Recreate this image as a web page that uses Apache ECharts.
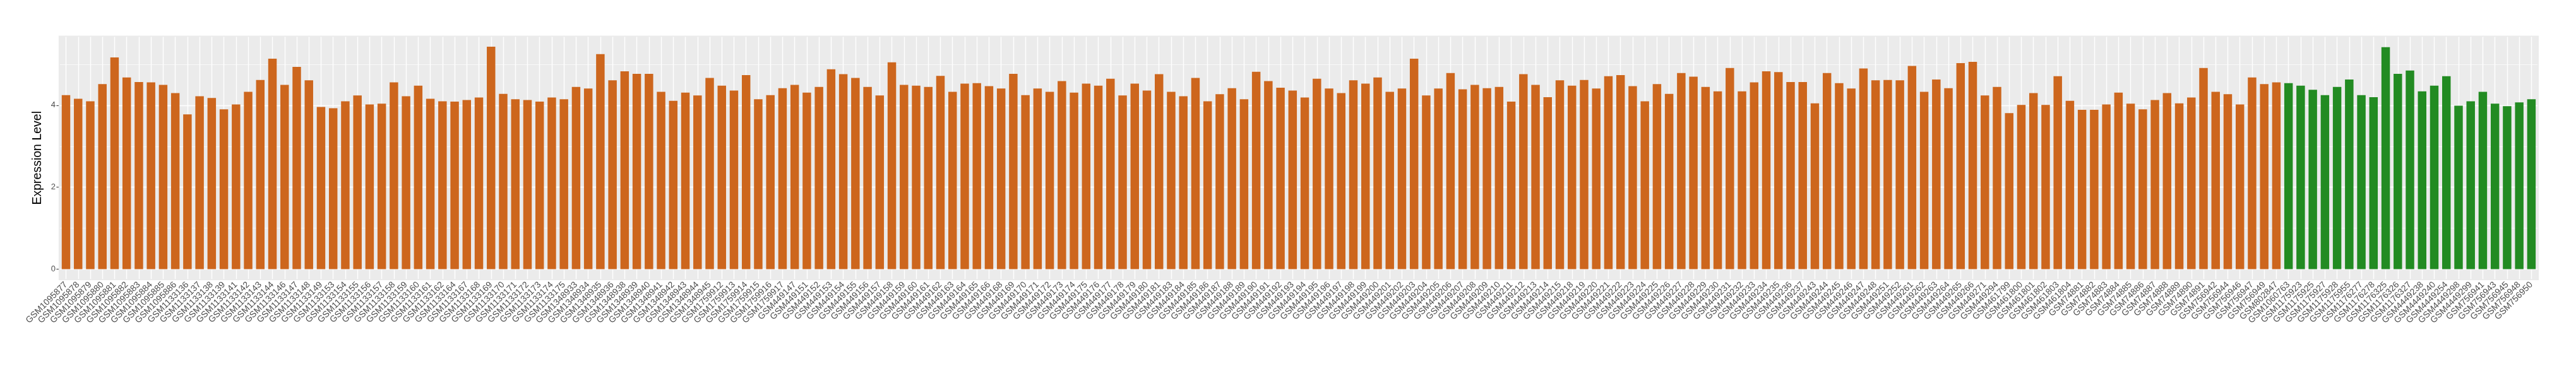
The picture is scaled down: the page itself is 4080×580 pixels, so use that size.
<!DOCTYPE html>
<html>
<head>
<meta charset="utf-8">
<title>Expression Level</title>
<script src="https://cdn.jsdelivr.net/npm/echarts@6.0.0/dist/echarts.min.js"></script>
<style>
  html, body { margin: 0; padding: 0; background: #fff; }
  #chart { width: 4080px; height: 580px; }
</style>
</head>
<body>
<div id="chart"></div>
<script>
const samples = [
  'GSM1095877', 'GSM1095878', 'GSM1095879', 'GSM1095880', 'GSM1095881', 'GSM1095882', 'GSM1095883', 'GSM1095884',
  'GSM1095885', 'GSM1095886', 'GSM1133136', 'GSM1133137', 'GSM1133138', 'GSM1133139', 'GSM1133141', 'GSM1133142',
  'GSM1133143', 'GSM1133144', 'GSM1133146', 'GSM1133147', 'GSM1133148', 'GSM1133149', 'GSM1133153', 'GSM1133154',
  'GSM1133155', 'GSM1133156', 'GSM1133157', 'GSM1133158', 'GSM1133159', 'GSM1133160', 'GSM1133161', 'GSM1133162',
  'GSM1133164', 'GSM1133167', 'GSM1133168', 'GSM1133169', 'GSM1133170', 'GSM1133171', 'GSM1133172', 'GSM1133173',
  'GSM1133174', 'GSM1133175', 'GSM1348933', 'GSM1348934', 'GSM1348935', 'GSM1348936', 'GSM1348938', 'GSM1348939',
  'GSM1348940', 'GSM1348941', 'GSM1348942', 'GSM1348943', 'GSM1348944', 'GSM1348945', 'GSM1759912', 'GSM1759913',
  'GSM1759914', 'GSM1759915', 'GSM1759916', 'GSM1759917', 'GSM449147', 'GSM449151', 'GSM449152', 'GSM449153',
  'GSM449154', 'GSM449155', 'GSM449156', 'GSM449157', 'GSM449158', 'GSM449159', 'GSM449160', 'GSM449161',
  'GSM449162', 'GSM449163', 'GSM449164', 'GSM449165', 'GSM449166', 'GSM449168', 'GSM449169', 'GSM449170',
  'GSM449171', 'GSM449172', 'GSM449173', 'GSM449174', 'GSM449175', 'GSM449176', 'GSM449177', 'GSM449178',
  'GSM449179', 'GSM449180', 'GSM449181', 'GSM449183', 'GSM449184', 'GSM449185', 'GSM449186', 'GSM449187',
  'GSM449188', 'GSM449189', 'GSM449190', 'GSM449191', 'GSM449192', 'GSM449193', 'GSM449194', 'GSM449195',
  'GSM449196', 'GSM449197', 'GSM449198', 'GSM449199', 'GSM449200', 'GSM449201', 'GSM449202', 'GSM449203',
  'GSM449204', 'GSM449205', 'GSM449206', 'GSM449207', 'GSM449208', 'GSM449209', 'GSM449210', 'GSM449211',
  'GSM449212', 'GSM449213', 'GSM449214', 'GSM449215', 'GSM449218', 'GSM449219', 'GSM449220', 'GSM449221',
  'GSM449222', 'GSM449223', 'GSM449224', 'GSM449225', 'GSM449226', 'GSM449227', 'GSM449228', 'GSM449229',
  'GSM449230', 'GSM449231', 'GSM449232', 'GSM449233', 'GSM449234', 'GSM449235', 'GSM449236', 'GSM449237',
  'GSM449243', 'GSM449244', 'GSM449245', 'GSM449246', 'GSM449247', 'GSM449248', 'GSM449251', 'GSM449252',
  'GSM449261', 'GSM449262', 'GSM449263', 'GSM449264', 'GSM449265', 'GSM449266', 'GSM449271', 'GSM449294',
  'GSM461799', 'GSM461800', 'GSM461801', 'GSM461802', 'GSM461803', 'GSM461804', 'GSM74881', 'GSM74882',
  'GSM74883', 'GSM74884', 'GSM74885', 'GSM74886', 'GSM74887', 'GSM74888', 'GSM74889', 'GSM74890',
  'GSM74891', 'GSM756942', 'GSM756944', 'GSM756946', 'GSM756947', 'GSM756949', 'GSM802847', 'GSM1060763',
  'GSM1175923', 'GSM1175925', 'GSM1175927', 'GSM1175928', 'GSM1175955', 'GSM1176277', 'GSM1176278', 'GSM1176325',
  'GSM1176326', 'GSM1176327', 'GSM4449238', 'GSM4449240', 'GSM4449254', 'GSM4449298', 'GSM4449299', 'GSM756941',
  'GSM756943', 'GSM756945', 'GSM756948', 'GSM756950'
];

const expression = [
  4.25, 4.16, 4.10, 4.52, 5.17, 4.68, 4.57, 4.56,
  4.50, 4.30, 3.78, 4.22, 4.18, 3.90, 4.02, 4.33,
  4.62, 5.14, 4.50, 4.94, 4.61, 3.96, 3.93, 4.10,
  4.24, 4.02, 4.04, 4.56, 4.22, 4.48, 4.16, 4.10,
  4.09, 4.13, 4.19, 5.43, 4.28, 4.15, 4.13, 4.09,
  4.19, 4.15, 4.45, 4.41, 5.25, 4.61, 4.83, 4.77,
  4.77, 4.33, 4.11, 4.31, 4.24, 4.67, 4.48, 4.36,
  4.74, 4.15, 4.25, 4.42, 4.50, 4.31, 4.45, 4.88,
  4.76, 4.67, 4.45, 4.24, 5.05, 4.50, 4.48, 4.45,
  4.72, 4.33, 4.53, 4.54, 4.47, 4.41, 4.77, 4.25,
  4.41, 4.33, 4.59, 4.31, 4.53, 4.48, 4.65, 4.24,
  4.53, 4.36, 4.76, 4.33, 4.22, 4.67, 4.10, 4.27,
  4.42, 4.15, 4.82, 4.59, 4.43, 4.36, 4.19, 4.65,
  4.41, 4.30, 4.61, 4.53, 4.68, 4.33, 4.41, 5.14,
  4.24, 4.41, 4.79, 4.39, 4.50, 4.42, 4.45, 4.09,
  4.76, 4.50, 4.20, 4.61, 4.48, 4.62, 4.41, 4.71,
  4.74, 4.47, 4.10, 4.52, 4.28, 4.79, 4.70, 4.45,
  4.34, 4.91, 4.34, 4.56, 4.83, 4.81, 4.57, 4.57,
  4.05, 4.79, 4.54, 4.41, 4.90, 4.61, 4.62, 4.61,
  4.96, 4.33, 4.63, 4.42, 5.03, 5.06, 4.24, 4.45,
  3.81, 4.01, 4.30, 4.01, 4.71, 4.11, 3.89, 3.89,
  4.02, 4.31, 4.04, 3.90, 4.13, 4.30, 4.05, 4.19,
  4.91, 4.33, 4.27, 4.02, 4.68, 4.52, 4.56, 4.54,
  4.48, 4.38, 4.25, 4.45, 4.63, 4.25, 4.20, 5.42,
  4.77, 4.85, 4.34, 4.48, 4.71, 3.99, 4.10, 4.33,
  4.04, 3.98, 4.07, 4.15
];

// samples drawn in green, the rest in orange
const greenSamples = [
  'GSM1060763', 'GSM1175923', 'GSM1175925', 'GSM1175927', 'GSM1175928', 'GSM1175955', 'GSM1176277',
  'GSM1176278', 'GSM1176325', 'GSM1176326', 'GSM1176327', 'GSM4449238', 'GSM4449240', 'GSM4449254',
  'GSM4449298', 'GSM4449299', 'GSM756941', 'GSM756943', 'GSM756945', 'GSM756948', 'GSM756950'
];

const yMajor = [0, 2, 4];
const yMinor = [1, 3, 5];

const ORANGE = '#CD661D';
const GREEN = '#228B22';

const chart = echarts.init(document.getElementById('chart'));

const barData = expression.map((v, i) => ({
  value: v,
  itemStyle: { color: greenSamples.includes(samples[i]) ? GREEN : ORANGE }
}));

// white panel grid like ggplot, kept behind the bars
const gridLines = []
  .concat(yMinor.map(v => ({ yAxis: v, lineStyle: { width: 0.7 } })))
  .concat(yMajor.map(v => ({ yAxis: v, lineStyle: { width: 1.4 } })))
  .concat(samples.map(s => ({ xAxis: s, lineStyle: { width: 1.4 } })));

chart.setOption({
  animation: false,
  textStyle: { fontFamily: 'Liberation Sans, Arial, sans-serif' },
  grid: {
    left: 94.9,
    right: 61,
    top: 58.5,
    bottom: 138,
    outerBoundsMode: 'none',
    containLabel: false,
    show: true,
    backgroundColor: '#EBEBEB',
    borderColor: '#EBEBEB',
    borderWidth: 4
  },
  xAxis: {
    type: 'category',
    data: samples,
    offset: 2,
    axisLine: { show: false },
    axisTick: {
      show: true,
      alignWithLabel: true,
      interval: 0,
      length: 3.5,
      lineStyle: { color: '#333333', width: 1 }
    },
    axisLabel: {
      interval: 0,
      rotate: 45,
      fontSize: 14,
      color: '#4D4D4D',
      margin: 5
    },
    splitLine: { show: false }
  },
  yAxis: {
    type: 'value',
    min: -0.2407,
    max: 5.6707,
    offset: 2,
    axisLine: { show: false },
    axisTick: {
      show: true,
      length: 3.5,
      customValues: yMajor,
      lineStyle: { color: '#333333', width: 1 }
    },
    axisLabel: {
      customValues: yMajor,
      fontSize: 13,
      color: '#4D4D4D',
      margin: 5
    },
    splitLine: { show: false },
    name: 'Expression Level',
    nameLocation: 'middle',
    nameGap: 18,
    nameTextStyle: { fontSize: 19.5, color: '#000000' }
  },
  series: [
    {
      type: 'bar',
      data: barData,
      barCategoryGap: '30%',
      z: 2,
      markLine: {
        silent: true,
        z: 1,
        symbol: 'none',
        label: { show: false },
        lineStyle: { color: '#FFFFFF', type: 'solid', opacity: 1 },
        emphasis: { disabled: true },
        data: gridLines
      }
    }
  ]
});
</script>
</body>
</html>
